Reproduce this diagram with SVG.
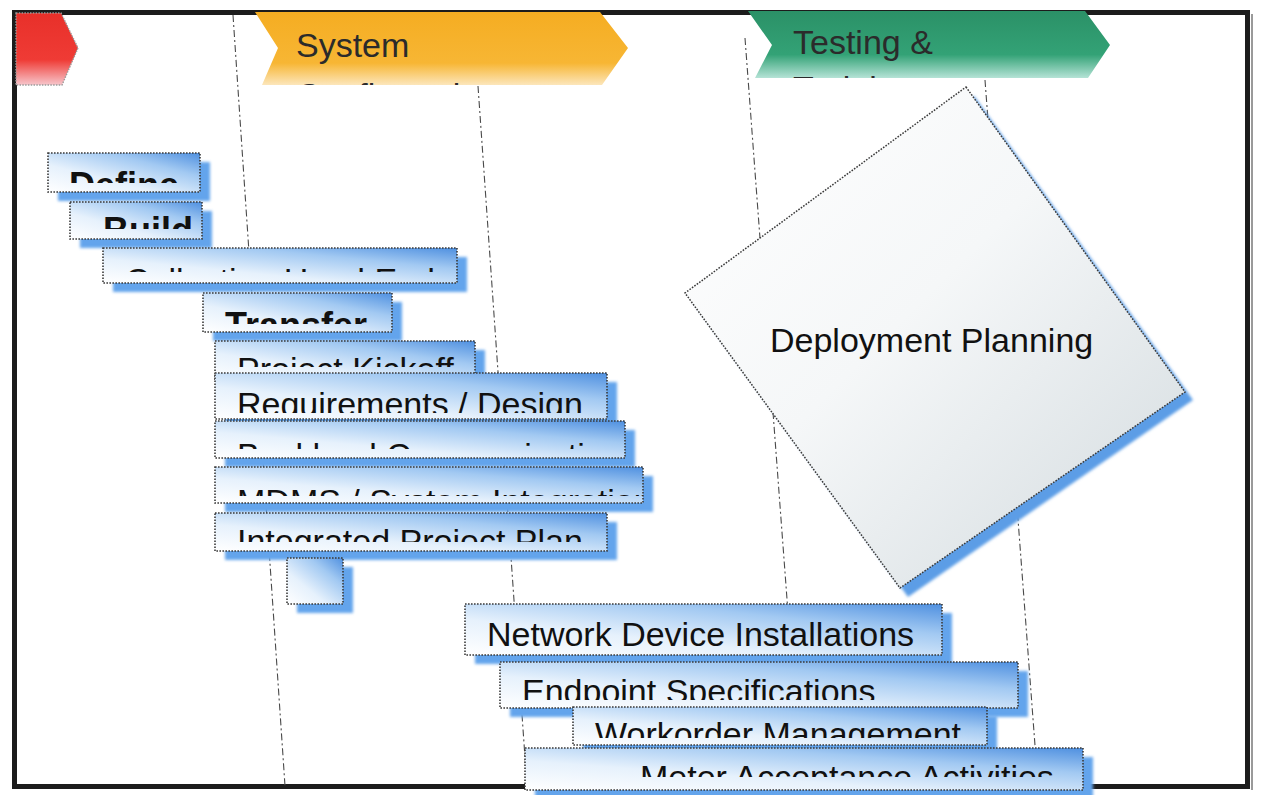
<svg xmlns="http://www.w3.org/2000/svg" width="1262" height="795" viewBox="0 0 1262 795">
<style>
.box{fill:url(#boxGrad);stroke:#3a3a3a;stroke-width:1.6;stroke-dasharray:1.6 1.4}
.shd{fill:#64a4ec;filter:url(#blur)}
.lbl{font-family:"Liberation Sans",Arial,sans-serif;font-size:34px;fill:#111}
.b{font-weight:bold;font-size:36px}
.hd{font-family:"Liberation Sans",Arial,sans-serif;font-size:34px;fill:#2b2b2b}
.dash{fill:none;stroke:#4a4a4a;stroke-width:1.1;stroke-dasharray:7 3 2 3}
</style>
<defs>
<filter id="blur" x="-10%" y="-30%" width="120%" height="160%"><feGaussianBlur stdDeviation="1.8"/></filter>
<linearGradient id="boxGrad" x1="0" y1="1" x2="1" y2="0">
<stop offset="0" stop-color="#ffffff"/>
<stop offset="0.35" stop-color="#e6f1fc"/>
<stop offset="0.7" stop-color="#a2c9f2"/>
<stop offset="1" stop-color="#4f90e0"/>
</linearGradient>
<linearGradient id="redG" x1="0" y1="0" x2="0" y2="1">
<stop offset="0" stop-color="#e8302a"/>
<stop offset="0.65" stop-color="#ef3b35"/>
<stop offset="1" stop-color="#f7c6cc"/>
</linearGradient>
<linearGradient id="orG" x1="0" y1="0" x2="0" y2="1">
<stop offset="0" stop-color="#f5ad22"/>
<stop offset="0.7" stop-color="#f7b634"/>
<stop offset="1" stop-color="#fce6bb"/>
</linearGradient>
<linearGradient id="grG" x1="0" y1="0" x2="0" y2="1">
<stop offset="0" stop-color="#2b9167"/>
<stop offset="0.65" stop-color="#33a276"/>
<stop offset="1" stop-color="#b5e3d6"/>
</linearGradient>
<linearGradient id="diaG" x1="0" y1="0" x2="1" y2="1">
<stop offset="0" stop-color="#ffffff"/>
<stop offset="0.45" stop-color="#f5f7f8"/>
<stop offset="1" stop-color="#d2dade"/>
</linearGradient>
<clipPath id="cOr"><rect x="250" y="10" width="400" height="75"/></clipPath>
<clipPath id="cGr"><rect x="745" y="10" width="400" height="68"/></clipPath>
<clipPath id="c1"><rect x="48" y="153" width="152" height="30"/></clipPath>
<clipPath id="c2"><rect x="70" y="202" width="132" height="27"/></clipPath>
<clipPath id="c3"><rect x="103" y="248" width="354" height="24"/></clipPath>
<clipPath id="c4"><rect x="203" y="293" width="189" height="31"/></clipPath>
<clipPath id="c5"><rect x="215" y="341" width="260" height="26"/></clipPath>
<clipPath id="c6"><rect x="215" y="373" width="392" height="40"/></clipPath>
<clipPath id="c7"><rect x="215" y="421" width="410" height="28"/></clipPath>
<clipPath id="c8"><rect x="215" y="467" width="428" height="29"/></clipPath>
<clipPath id="c9"><rect x="215" y="513" width="392" height="29"/></clipPath>
<clipPath id="c12"><rect x="500" y="662" width="518" height="38"/></clipPath>
<clipPath id="c13"><rect x="573" y="707" width="414" height="31"/></clipPath>
<clipPath id="c14"><rect x="525" y="748" width="558" height="29"/></clipPath>
</defs>
<rect width="1262" height="795" fill="#ffffff"/>
<g id="frame">
<rect x="14.5" y="12.5" width="1233" height="774" fill="none" stroke="#1c1c1c" stroke-width="5"/>
<line x1="1252" y1="14" x2="1252" y2="790" stroke="#9a9a9a" stroke-width="2"/>
</g>
<g id="connectors">
<line class="dash" x1="233" y1="15" x2="285" y2="786"/>
<line class="dash" x1="478" y1="86" x2="527" y2="786"/>
<line class="dash" x1="745" y1="38" x2="801" y2="786"/>
<line class="dash" x1="985" y1="80" x2="1037" y2="772"/>
</g>
<g id="phase-red">
<polygon points="16,13 61,13 78,48 62,85 16,85" fill="url(#redG)" stroke="#9a9a9a" stroke-width="1.4" stroke-dasharray="1.5 1.3"/>
</g>
<g id="phase-system">
<polygon points="255,12 600,12 628,48 602,85 262,85 278,48" fill="url(#orG)"/>
<text class="hd" x="296" y="57">System</text>
<text class="hd" x="296" y="107" clip-path="url(#cOr)">Configuration</text>
</g>
<g id="phase-testing">
<polygon points="748,11 1085,11 1110,45 1088,78 755,78 772,45" fill="url(#grG)"/>
<text class="hd" x="793" y="54">Testing &amp;</text>
<text class="hd" x="793" y="100" clip-path="url(#cGr)">Training</text>
</g>
<g id="n-define">
<rect class="shd" x="58" y="162" width="152" height="39"/>
<rect class="box" x="48" y="153" width="152" height="39"/>
<text class="lbl b" x="69" y="198" clip-path="url(#c1)">Define</text>
</g>
<g id="n-build">
<rect class="shd" x="80" y="211" width="132" height="37"/>
<rect class="box" x="70" y="202" width="132" height="37"/>
<text class="lbl b" x="103" y="243" clip-path="url(#c2)">Build</text>
</g>
<g id="n-collection">
<rect class="shd" x="113" y="257" width="354" height="35"/>
<rect class="box" x="103" y="248" width="354" height="35"/>
<text class="lbl" x="125" y="292" clip-path="url(#c3)">Collection Head End</text>
</g>
<g id="n-transfer">
<rect class="shd" x="213" y="302" width="189" height="39"/>
<rect class="box" x="203" y="293" width="189" height="39"/>
<text class="lbl b" x="225" y="338" clip-path="url(#c4)">Transfer</text>
</g>
<g id="n-kickoff">
<rect class="shd" x="225" y="350" width="260" height="40"/>
<rect class="box" x="215" y="341" width="260" height="40"/>
<text class="lbl" x="237" y="381" clip-path="url(#c5)">Project Kickoff</text>
</g>
<g id="n-requirements">
<rect class="shd" x="225" y="382" width="392" height="46"/>
<rect class="box" x="215" y="373" width="392" height="46"/>
<text class="lbl" x="237" y="416" clip-path="url(#c6)">Requirements / Design</text>
</g>
<g id="n-backhaul">
<rect class="shd" x="225" y="430" width="410" height="37"/>
<rect class="box" x="215" y="421" width="410" height="37"/>
<text class="lbl" x="237" y="467" clip-path="url(#c7)">Backhaul Communications</text>
</g>
<g id="n-mdms">
<rect class="shd" x="225" y="476" width="428" height="36"/>
<rect class="box" x="215" y="467" width="428" height="36"/>
<text class="lbl" x="237" y="513" clip-path="url(#c8)">MDMS / System Integration</text>
</g>
<g id="n-integrated">
<rect class="shd" x="225" y="522" width="392" height="38"/>
<rect class="box" x="215" y="513" width="392" height="38"/>
<text class="lbl" x="237" y="553" clip-path="url(#c9)">Integrated Project Plan</text>
</g>
<g id="n-small">
<rect class="shd" x="297" y="567" width="56" height="46"/>
<rect class="box" x="287" y="558" width="56" height="46"/>
</g>
<g id="n-deployment">
<polygon points="974,96 1193,400 908,597 693,301" fill="#5b9de6" filter="url(#blur)"/>
<polygon points="966,87 1185,392 900,588 685,293" fill="url(#diaG)" stroke="#3a3a3a" stroke-width="1.5" stroke-dasharray="1.6 1.4"/>
<text class="lbl" x="770" y="352">Deployment Planning</text>
</g>
<g id="n-network">
<rect class="shd" x="475" y="613" width="477" height="51"/>
<rect class="box" x="465" y="604" width="477" height="51"/>
<text class="lbl" x="487" y="646">Network Device Installations</text>
</g>
<g id="n-endpoint">
<rect class="shd" x="510" y="671" width="518" height="46"/>
<rect class="box" x="500" y="662" width="518" height="46"/>
<text class="lbl" x="522" y="703" clip-path="url(#c12)">Endpoint Specifications</text>
</g>
<g id="n-workorder">
<rect class="shd" x="583" y="716" width="414" height="38"/>
<rect class="box" x="573" y="707" width="414" height="38"/>
<text class="lbl" x="595" y="746" clip-path="url(#c13)">Workorder Management</text>
</g>
<g id="n-meter">
<rect class="shd" x="535" y="757" width="558" height="42"/>
<rect class="box" x="525" y="748" width="558" height="42"/>
<text class="lbl" x="640" y="789" clip-path="url(#c14)">Meter Acceptance Activities</text>
</g>
</svg>
